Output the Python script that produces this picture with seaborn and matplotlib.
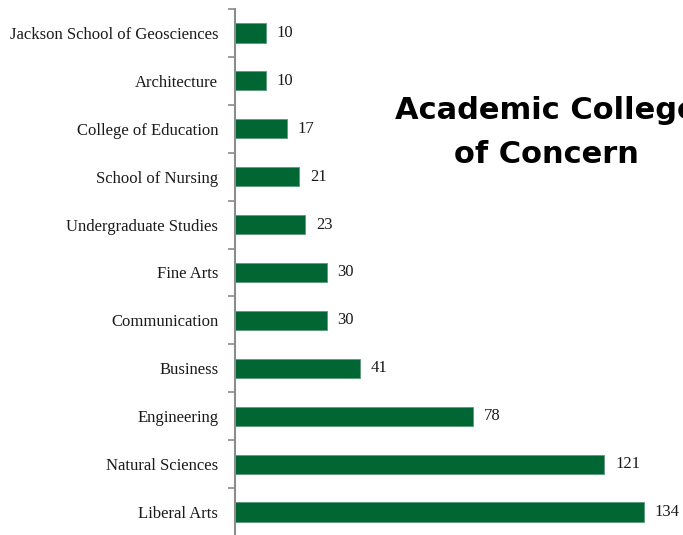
import matplotlib
matplotlib.use("Agg")
import matplotlib.pyplot as plt
import seaborn as sns
import pandas as pd

colleges = [
    "Jackson School of Geosciences",
    "Architecture",
    "College of Education",
    "School of Nursing",
    "Undergraduate Studies",
    "Fine Arts",
    "Communication",
    "Business",
    "Engineering",
    "Natural Sciences",
    "Liberal Arts",
]
counts = [10, 10, 17, 21, 23, 30, 30, 41, 78, 121, 134]

df = pd.DataFrame({"college": colleges, "count": counts})

sns.set_theme(style="white")
plt.rcParams["font.family"] = ["Liberation Serif", "DejaVu Serif"]

W, H = 683, 535
fig = plt.figure(figsize=(W / 100, H / 100), dpi=100)
left_px, top_px, bottom_px = 235, 9, 536
ax = fig.add_axes([left_px / W, 1 - bottom_px / H, (W - left_px) / W, (bottom_px - top_px) / H])

sns.barplot(data=df, y="college", x="count", orient="h", color="#006633",
            width=0.4, saturation=1, edgecolor="#5a9a78", linewidth=0.6, ax=ax)

ax.set_xlim(0, (W - left_px) / 3.053)
ax.set_ylim(len(colleges) - 0.5, -0.5)
ax.set_xlabel("")
ax.set_ylabel("")
ax.set_xticks([])

for s in ["top", "right", "bottom"]:
    ax.spines[s].set_visible(False)
ax.spines["left"].set_color("#8c8c8c")
ax.spines["left"].set_linewidth(1.5)

# category labels, with ticks on the boundaries between bars
ax.set_yticks(range(len(colleges)))
ax.set_yticklabels(colleges, fontsize=12, color="#1a1a1a")
ax.tick_params(axis="y", which="major", left=False, length=0, pad=12)
ax.set_yticks([i - 0.5 for i in range(len(colleges) + 1)], minor=True)
ax.tick_params(axis="y", which="minor", left=True, length=5, width=1.2,
               color="#8c8c8c", direction="out")

for i, v in enumerate(counts):
    ax.text(v + 3.5, i, str(v), va="center", ha="left", fontsize=12,
            color="#1a1a1a", clip_on=False)

title_font = dict(ha="center", va="baseline", fontsize=22, fontweight="bold",
                  family=["DejaVu Sans"], color="black")
fig.text(546 / W, 1 - 119 / H, "Academic College", **title_font)
fig.text(546 / W, 1 - 163 / H, "of Concern", **title_font)

fig.savefig("out.png", dpi=100)
